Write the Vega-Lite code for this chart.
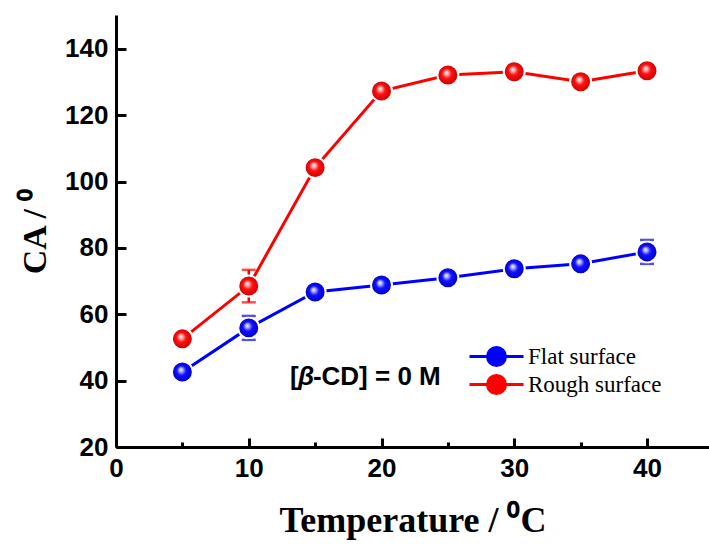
{
  "$schema": "https://vega.github.io/schema/vega-lite/v6.json",
  "width": 593,
  "height": 432,
  "autosize": "none",
  "padding": {"left": 116, "top": 15, "right": 0, "bottom": 99},
  "background": "white",
  "config": {
    "view": {"stroke": null},
    "axis": {
      "domainColor": "black", "domainWidth": 3, "tickColor": "black", "tickWidth": 3,
      "labelFont": "Liberation Sans", "labelFontWeight": "bold", "labelFontSize": 26, "labelColor": "black",
      "labelFlush": false,
      "titleFont": "Liberation Serif", "titleFontWeight": "bold", "titleFontSize": 34, "titleColor": "black",
      "grid": false
    }
  },
  "data": {
    "values": [
      {"series": "Flat surface", "temp": 5, "ca": 42.6, "lo": 42.6, "hi": 42.6},
      {"series": "Flat surface", "temp": 10, "ca": 55.9, "lo": 52.3, "hi": 59.5},
      {"series": "Flat surface", "temp": 15, "ca": 66.7, "lo": 66.7, "hi": 66.7},
      {"series": "Flat surface", "temp": 20, "ca": 68.8, "lo": 68.8, "hi": 68.8},
      {"series": "Flat surface", "temp": 25, "ca": 71.0, "lo": 71.0, "hi": 71.0},
      {"series": "Flat surface", "temp": 30, "ca": 73.7, "lo": 73.7, "hi": 73.7},
      {"series": "Flat surface", "temp": 35, "ca": 75.2, "lo": 75.2, "hi": 75.2},
      {"series": "Flat surface", "temp": 40, "ca": 78.8, "lo": 75.2, "hi": 82.4},
      {"series": "Rough surface", "temp": 5, "ca": 52.6, "lo": 52.6, "hi": 52.6},
      {"series": "Rough surface", "temp": 10, "ca": 68.5, "lo": 63.6, "hi": 73.4},
      {"series": "Rough surface", "temp": 15, "ca": 104.2, "lo": 104.2, "hi": 104.2},
      {"series": "Rough surface", "temp": 20, "ca": 127.3, "lo": 127.3, "hi": 127.3},
      {"series": "Rough surface", "temp": 25, "ca": 132.1, "lo": 132.1, "hi": 132.1},
      {"series": "Rough surface", "temp": 30, "ca": 133.1, "lo": 133.1, "hi": 133.1},
      {"series": "Rough surface", "temp": 35, "ca": 130.1, "lo": 130.1, "hi": 130.1},
      {"series": "Rough surface", "temp": 40, "ca": 133.4, "lo": 133.4, "hi": 133.4}
    ]
  },
  "encoding": {
    "x": {
      "field": "temp", "type": "quantitative",
      "scale": {"domain": [0, 44.67], "nice": false, "zero": false},
      "axis": {
        "title": "Temperature / ⁰C",
        "titleFontSize": 36,
        "values": [0, 5, 10, 15, 20, 25, 30, 35, 40],
        "labelExpr": "datum.value % 10 == 0 ? datum.label : ''",
        "tickSize": {"condition": {"test": "datum.value % 10 == 0", "value": -9}, "value": -5},
        "labelPadding": 17,
        "titlePadding": 22
      }
    },
    "y": {
      "field": "ca", "type": "quantitative",
      "scale": {"domain": [20, 150.2], "nice": false, "zero": false},
      "axis": {
        "title": "CA / ⁰",
        "values": [20, 40, 60, 80, 100, 120, 140],
        "tickSize": -10,
        "labelPadding": 18,
        "titlePadding": 12
      }
    }
  },
  "layer": [
    {
      "mark": {"type": "line", "strokeWidth": 3},
      "encoding": {
        "color": {
          "field": "series", "type": "nominal",
          "scale": {"domain": ["Flat surface", "Rough surface"], "range": ["#0000ff", "#ff0000"]},
          "legend": {
            "title": null, "orient": "none", "legendX": 369, "legendY": 330,
            "symbolType": "M-3,0L3,0M1,0A1,1,0,1,1,-1,0A1,1,0,1,1,1,0Z",
            "symbolSize": 324, "symbolStrokeWidth": 3,
            "labelFont": "Liberation Serif", "labelFontSize": 23, "labelColor": "black",
            "labelOffset": 20, "rowPadding": -3, "padding": 0,
            "encode": {"symbols": {"update": {"fill": {"scale": "color", "field": "value"}, "fillOpacity": {"value": 1}}}}
          }
        }
      }
    },
    {
      "transform": [{"filter": "datum.hi > datum.lo"}],
      "mark": {"type": "errorbar", "ticks": {"size": 14, "thickness": 2.5}, "thickness": 2.5},
      "encoding": {
        "y": {"field": "lo", "type": "quantitative"},
        "y2": {"field": "hi"},
        "color": {"field": "series", "type": "nominal", "legend": null}
      }
    },
    {
      "transform": [{"filter": "datum.series == 'Flat surface'"}],
      "mark": {
        "type": "point", "filled": true, "size": 440, "opacity": 1,
        "stroke": "white", "strokeWidth": 2, "strokeOpacity": 1,
        "fill": {"gradient": "radial", "x1": 0.42, "y1": 0.38, "r1": 0, "x2": 0.5, "y2": 0.5, "r2": 0.5,
          "stops": [{"offset": 0, "color": "#ffffff"}, {"offset": 0.18, "color": "#b0b0ff"}, {"offset": 0.45, "color": "#1010ff"}, {"offset": 1, "color": "#0000c0"}]}
      }
    },
    {
      "transform": [{"filter": "datum.series == 'Rough surface'"}],
      "mark": {
        "type": "point", "filled": true, "size": 440, "opacity": 1,
        "stroke": "white", "strokeWidth": 2, "strokeOpacity": 1,
        "fill": {"gradient": "radial", "x1": 0.42, "y1": 0.38, "r1": 0, "x2": 0.5, "y2": 0.5, "r2": 0.5,
          "stops": [{"offset": 0, "color": "#ffffff"}, {"offset": 0.18, "color": "#ffb0b0"}, {"offset": 0.45, "color": "#ff1010"}, {"offset": 1, "color": "#c80000"}]}
      }
    },
    {
      "transform": [{"filter": "datum.series == 'Flat surface' && datum.temp == 5"}],
      "mark": {"type": "text", "text": "[", "align": "left", "baseline": "middle", "font": "Liberation Sans", "fontWeight": "bold", "fontSize": 26, "color": "black"},
      "encoding": {"x": {"datum": 13.1}, "y": {"datum": 41.1}}
    },
    {
      "transform": [{"filter": "datum.series == 'Flat surface' && datum.temp == 5"}],
      "mark": {"type": "text", "text": "β", "align": "left", "baseline": "middle", "dx": 8, "font": "Liberation Sans", "fontWeight": "bold", "fontStyle": "italic", "fontSize": 26, "color": "black"},
      "encoding": {"x": {"datum": 13.1}, "y": {"datum": 41.1}}
    },
    {
      "transform": [{"filter": "datum.series == 'Flat surface' && datum.temp == 5"}],
      "mark": {"type": "text", "text": "-CD] = 0 M", "align": "left", "baseline": "middle", "dx": 23, "font": "Liberation Sans", "fontWeight": "bold", "fontSize": 26, "color": "black"},
      "encoding": {"x": {"datum": 13.1}, "y": {"datum": 41.1}}
    }
  ]
}
